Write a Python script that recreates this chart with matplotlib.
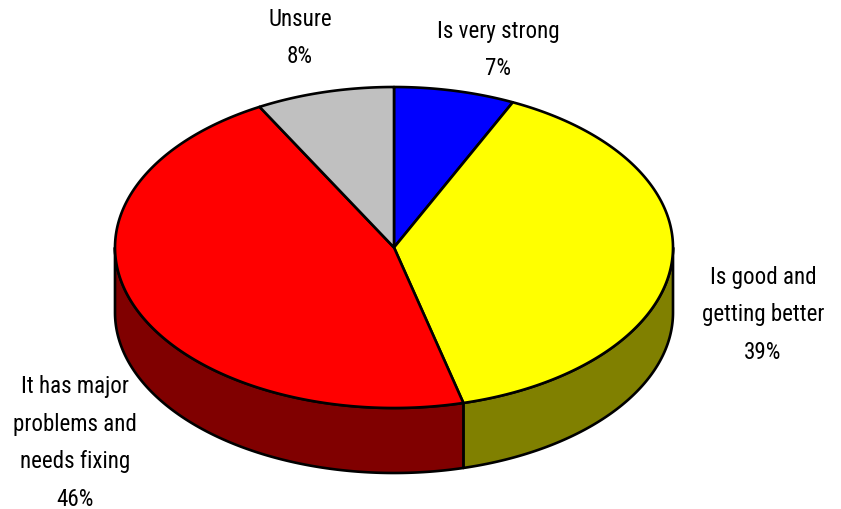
import numpy as np
import matplotlib
matplotlib.use("Agg")
import matplotlib.pyplot as plt
from matplotlib.patches import Polygon

labels = ["Is very strong\n7%", "Is good and\ngetting better\n39%", "It has major\nproblems and\nneeds fixing\n46%", "Unsure\n8%"]
values = [7, 39, 46, 8]
top_colors = ["#0000ff", "#ffff00", "#ff0000", "#c0c0c0"]
side_colors = ["#000080", "#808000", "#800000", "#606060"]
label_pos = [(498.5, 50), (763, 315), (75, 443), (300, 38)]

W, H = 841, 510
cx, cy, rx, ry, depth = 394, 248.5, 279, 160.5, 65

plt.rcParams["font.family"] = ["Roboto Condensed", "DejaVu Sans"]

fig = plt.figure(figsize=(W / 100, H / 100), dpi=100)
ax = fig.add_axes([0, 0, 1, 1])
ax.set_xlim(0, W)
ax.set_ylim(H, 0)
ax.axis("off")


def arc(a, b, dy=0.0):
    t = np.radians(np.linspace(a, b, 200))
    return np.column_stack([cx + rx * np.sin(t), cy + dy - ry * np.cos(t)])


edges = np.cumsum([0] + values) / sum(values) * 360
lw = 1.9

for i in range(len(values)):
    a, b = max(edges[i], 90), min(edges[i + 1], 270)
    if a < b:
        top = arc(a, b)
        bot = arc(a, b, depth)[::-1]
        ax.add_patch(Polygon(np.vstack([top, bot]), closed=True, fc=side_colors[i],
                             ec="black", lw=lw, joinstyle="round", zorder=1))

for i in range(len(values)):
    pts = np.vstack([[cx, cy], arc(edges[i], edges[i + 1])])
    ax.add_patch(Polygon(pts, closed=True, fc=top_colors[i], ec="black", lw=lw,
                         joinstyle="round", zorder=2))

for text, (x, y) in zip(labels, label_pos):
    ax.text(x, y, text, ha="center", va="center", fontsize=16.6, color="black",
            linespacing=1.8)

fig.savefig("out.png", dpi=100)
